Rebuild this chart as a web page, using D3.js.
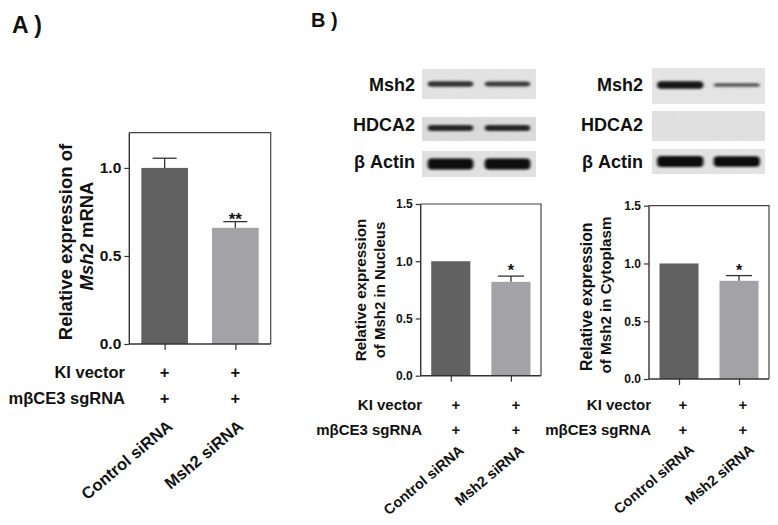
<!DOCTYPE html>
<html>
<head>
<meta charset="utf-8">
<script src="https://cdn.jsdelivr.net/npm/d3@7"></script>
<style>
body { margin: 0; background: #fff; }
text { font-family: "Liberation Sans", Arial, sans-serif; font-weight: bold; fill: #111; }
</style>
</head>
<body>
<svg id="fig" width="778" height="525"></svg>
<script>
// data
var groups = ["Control siRNA", "Msh2 siRNA"];
var treatments = ["KI vector", "mβCE3 sgRNA"];
var mrnaMean = [1.0, 0.66], mrnaErr = [0.055, 0.035];
var nucMean = [1.0, 0.82], nucErr = [0, 0.05];
var cytoMean = [1.0, 0.85], cytoErr = [0, 0.045];
var sigA = ["", "**"], sigB = ["", "*"];
var ticksA = [0, 0.5, 1.0], ticksB = [0, 0.5, 1.0, 1.5];
var blotRows = ["Msh2", "HDCA2", "β Actin"];
var nucBands = [[0.78, 0.72], [0.85, 0.85], [1, 1]];   // band intensity per lane
var cytoBands = [[0.95, 0.5], [0, 0], [1, 0.97]];
var barColors = ["#616161", "#a3a3a7"];

var svg = d3.select("#fig");

var defs = svg.append("defs");
defs.append("filter").attr("id", "blur").attr("x", "-20%").attr("y", "-100%").attr("width", "140%").attr("height", "300%")
	.append("feGaussianBlur").attr("stdDeviation", "1.6 1.1");
var noise = defs.append("filter").attr("id", "grain");
noise.append("feTurbulence").attr("type", "fractalNoise").attr("baseFrequency", 0.35).attr("numOctaves", 2).attr("seed", 4);
noise.append("feColorMatrix").attr("type", "matrix")
	.attr("values", "0 0 0 0 0.5  0 0 0 0 0.5  0 0 0 0 0.5  0 0 0 0.10 0");
noise.append("feComposite").attr("in2", "SourceGraphic").attr("operator", "in");

// panel letters
svg.append("text").attr("x", 12).attr("y", 33).style("font-size", "23px").text("A )");
svg.append("text").attr("x", 311).attr("y", 27).style("font-size", "20px").text("B )");

function drawChart(o) {
	var g = svg.append("g");
	var x = d3.scalePoint().domain(groups).range([o.left, o.right]).padding(0.5);
	var step = x.step();
	var bw = step * o.barFrac;
	var y = d3.scaleLinear().domain([0, o.ymax]).range([o.bottom, o.top]);

	// frame (top + right)
	g.append("path")
		.attr("d", "M" + o.left + "," + o.top + "H" + o.right + "V" + o.bottom)
		.attr("fill", "none").attr("stroke", "#444").attr("stroke-width", 1.2);

	g.selectAll("rect.bar").data(groups).enter().append("rect")
		.attr("class", "bar")
		.attr("x", function(d) { return x(d) - bw / 2; })
		.attr("width", bw)
		.attr("y", function(d, i) { return y(o.mean[i]); })
		.attr("height", function(d, i) { return y(0) - y(o.mean[i]); })
		.attr("fill", function(d, i) { return barColors[i]; });

	// error bars (upper only)
	var eb = g.selectAll("g.err").data(groups.filter(function(d, i) { return o.err[i] > 0; })).enter().append("g");
	eb.append("line")
		.attr("x1", function(d) { return x(d); }).attr("x2", function(d) { return x(d); })
		.attr("y1", function(d) { var i = groups.indexOf(d); return y(o.mean[i]); })
		.attr("y2", function(d) { var i = groups.indexOf(d); return y(o.mean[i] + o.err[i]); })
		.attr("stroke", "#333").attr("stroke-width", 1.3);
	eb.append("line")
		.attr("x1", function(d) { return x(d) - o.cap; }).attr("x2", function(d) { return x(d) + o.cap; })
		.attr("y1", function(d) { var i = groups.indexOf(d); return y(o.mean[i] + o.err[i]); })
		.attr("y2", function(d) { var i = groups.indexOf(d); return y(o.mean[i] + o.err[i]); })
		.attr("stroke", "#333").attr("stroke-width", 1.3);

	g.selectAll("text.sig").data(groups).enter().append("text")
		.attr("x", function(d) { return x(d); })
		.attr("y", function(d, i) { return y(o.mean[i] + o.err[i]) - o.sigGap; })
		.attr("text-anchor", "middle")
		.style("font-size", o.sigSize + "px")
		.text(function(d, i) { return o.sig[i]; });

	var yAxis = g.append("g").attr("transform", "translate(" + o.left + ",0)")
		.call(d3.axisLeft(y).tickValues(o.ticks).tickFormat(d3.format(".1f")).tickSize(5).tickPadding(3));
	var xAxis = g.append("g").attr("transform", "translate(0," + o.bottom + ")")
		.call(d3.axisBottom(x).tickSize(6).tickFormat(""));
	[yAxis, xAxis].forEach(function(a) {
		a.select(".domain").attr("stroke", "#333").attr("stroke-width", 1.4);
		a.selectAll(".tick line").attr("stroke", "#333").attr("stroke-width", 1.2);
	});
	xAxis.select(".domain").attr("d", "M" + o.left + ",0H" + o.right);
	yAxis.select(".domain").attr("d", "M0," + o.bottom + "V" + o.top);
	yAxis.selectAll(".tick text").style("font-size", o.tickSize + "px").attr("fill", "#111");

	// y title, rotated
	o.title.forEach(function(line, k) {
		var t = g.append("text")
			.attr("transform", "translate(" + o.titleX[k] + "," + o.titleY[k] + ") rotate(-90)")
			.attr("text-anchor", "middle")
			.style("font-size", o.titleSize[k] + "px");
		line.forEach(function(part) {
			t.append("tspan").style("font-style", part.it ? "italic" : "normal").text(part.s);
		});
	});

	// treatment rows
	treatments.forEach(function(name, r) {
		g.append("text").attr("x", o.rowLabelX).attr("y", o.rowY[r])
			.attr("text-anchor", "end").style("font-size", o.rowSize + "px").text(name);
		g.selectAll(null).data(groups).enter().append("text")
			.attr("x", function(d) { return x(d) + o.plusDx; }).attr("y", o.rowY[r])
			.attr("text-anchor", "middle").style("font-size", o.rowSize + "px").text("+");
	});

	g.selectAll("text.cat").data(groups).enter().append("text")
		.attr("class", "cat")
		.attr("transform", function(d) { return "translate(" + (x(d) + o.catDx) + "," + o.catY + ") rotate(-40)"; })
		.attr("text-anchor", "end")
		.style("font-size", o.catSize + "px")
		.text(function(d) { return d; });
}

function drawBlot(o) {
	var g = svg.append("g");
	var lane = d3.scalePoint().domain(groups).range([o.left, o.right]).padding(0.5);
	var lw = lane.step() * o.laneFrac;
	blotRows.forEach(function(name, r) {
		var box = o.rows[r];
		g.append("rect").attr("x", o.left).attr("y", box[0]).attr("width", o.right - o.left).attr("height", box[1] - box[0])
			.attr("fill", o.bg[r]);
		g.append("rect").attr("x", o.left).attr("y", box[0]).attr("width", o.right - o.left).attr("height", box[1] - box[0])
			.attr("fill", "#000").attr("filter", "url(#grain)");
		g.append("text").attr("x", o.labelX).attr("y", o.labelY[r])
			.attr("text-anchor", "end").style("font-size", "18px").text(name);
		var cy = (box[0] + box[1]) / 2 + o.bandShift[r];
		g.selectAll(null).data(groups.filter(function(d, i) { return o.bands[r][i] > 0; })).enter().append("rect")
			.attr("x", function(d) { return lane(d) - lw / 2; })
			.attr("width", lw)
			.attr("y", function(d) { var v = o.bands[r][groups.indexOf(d)]; return cy - o.thick[r] * v / 2; })
			.attr("height", function(d) { var v = o.bands[r][groups.indexOf(d)]; return o.thick[r] * v; })
			.attr("rx", 4)
			.attr("fill", function(d) { var v = o.bands[r][groups.indexOf(d)]; return d3.interpolateRgb("#bdbdbd", "#0c0c0c")(v); })
			.attr("filter", "url(#blur)");
	});
}

drawChart({
	left: 129.3, right: 270.7, bottom: 344, top: 132.7, ymax: 1.2, ticks: ticksA,
	mean: mrnaMean, err: mrnaErr, sig: sigA, barFrac: 0.66, cap: 12,
	sigGap: -3, sigSize: 17, tickSize: 15.5,
	title: [[{s: "Relative expression of"}], [{s: "Msh2", it: true}, {s: " mRNA"}]],
	titleX: [72, 93], titleY: [242, 236], titleSize: [18.5, 18.5],
	rowLabelX: 125, rowY: [378, 404], rowSize: 16.5, plusDx: 0,
	catDx: 9, catY: 428, catSize: 16.5
});

drawChart({
	left: 420.7, right: 541, bottom: 375.7, top: 204, ymax: 1.5, ticks: ticksB,
	mean: nucMean, err: nucErr, sig: sigB, barFrac: 0.65, cap: 13,
	sigGap: 0, sigSize: 16, tickSize: 12,
	title: [[{s: "Relative expression"}], [{s: "of Msh2 in Nucleus"}]],
	titleX: [366, 385], titleY: [290, 290], titleSize: [15.2, 15],
	rowLabelX: 422, rowY: [410, 435], rowSize: 15, plusDx: 5,
	catDx: 14, catY: 452, catSize: 14.5
});

drawChart({
	left: 649, right: 769, bottom: 379, top: 205.7, ymax: 1.5, ticks: ticksB,
	mean: cytoMean, err: cytoErr, sig: sigB, barFrac: 0.65, cap: 13,
	sigGap: 0, sigSize: 16, tickSize: 12,
	title: [[{s: "Relative expression"}], [{s: "of Msh2 in Cytoplasm"}]],
	titleX: [592, 611], titleY: [296.7, 295], titleSize: [15.8, 15.2],
	rowLabelX: 651, rowY: [410, 435], rowSize: 15, plusDx: 4,
	catDx: 16, catY: 451, catSize: 14.5
});

drawBlot({
	left: 422, right: 536, labelX: 415, laneFrac: 0.8,
	rows: [[69, 99], [117, 141], [151, 177]], labelY: [91, 131, 168],
	bg: ["#e4e4e4", "#dcdcdc", "#e2e2e2"],
	thick: [7, 7, 11], bandShift: [0, -1, 0],
	bands: nucBands
});

drawBlot({
	left: 652, right: 765, labelX: 643, laneFrac: 0.82,
	rows: [[68, 104], [111, 141], [149, 174]], labelY: [91, 131, 168],
	bg: ["#e6e6e6", "#e2e2e2", "#e4e4e4"],
	thick: [8, 7, 11], bandShift: [-1, 0, 0],
	bands: cytoBands
});
</script>
</body>
</html>
